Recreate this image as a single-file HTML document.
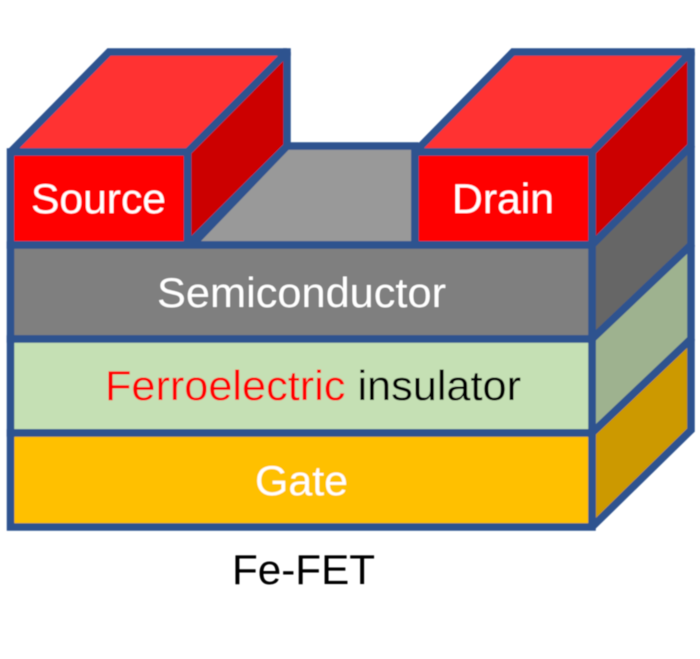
<!DOCTYPE html>
<html><head><meta charset="utf-8"><style>
html,body{margin:0;padding:0;background:#fff;width:700px;height:659px;overflow:hidden}
svg{display:block}
text{font-family:"Liberation Sans",sans-serif;font-size:42px}
</style></head><body>
<svg width="700" height="659" viewBox="0 0 700 659" xmlns="http://www.w3.org/2000/svg">
<defs><filter id="b" filterUnits="userSpaceOnUse" x="0" y="0" width="700" height="659"><feGaussianBlur stdDeviation="0.5"/></filter></defs>
<g filter="url(#b)">
<g stroke="#2f528f" stroke-width="7.5" stroke-linejoin="miter" stroke-miterlimit="1.5">
<polygon points="192,245 287,146 415,146 415,245" fill="#999999"/>
<polygon points="10.5,152 109,52 287,52 187.5,152" fill="#ff3333"/>
<polygon points="187.5,152 287,52 287,146 187.5,245" fill="#cc0000"/>
<rect x="10.5" y="152" width="177" height="93" fill="#ff0000"/>
<polygon points="415,152 513,52 691,52 592,152" fill="#ff3333"/>
<polygon points="592,152 691,52 691,146 592,245" fill="#cc0000"/>
<rect x="415" y="152" width="177" height="93" fill="#ff0000"/>
<polygon points="592,245 691,146 691,245 592,339" fill="#666666"/>
<polygon points="592,339 691,245 691,339 592,433" fill="#9eb28f"/>
<polygon points="592,433 691,339 691,430 592,527" fill="#cc9900"/>
<rect x="10.5" y="245" width="581.5" height="94" fill="#7f7f7f"/>
<rect x="10.5" y="339" width="581.5" height="94" fill="#c5e0b4"/>
<rect x="10.5" y="433" width="581.5" height="94" fill="#ffc000"/>
</g>
<g fill="#2f528f">
<rect x="283" y="48.25" width="7.75" height="7.5"/>
<rect x="687" y="48.25" width="7.75" height="7.5"/>
</g>
<text x="31" y="213" fill="#fff" textLength="135" lengthAdjust="spacingAndGlyphs">Source</text>
<text x="452" y="213" fill="#fff" textLength="102" lengthAdjust="spacingAndGlyphs">Drain</text>
<text x="157" y="307" fill="#fff" textLength="289" lengthAdjust="spacingAndGlyphs">Semiconductor</text>
<text x="105" y="400" textLength="416" lengthAdjust="spacingAndGlyphs"><tspan fill="#ff0000">Ferroelectric</tspan><tspan fill="#000"> insulator</tspan></text>
<text x="255" y="495" fill="#fff" textLength="93" lengthAdjust="spacingAndGlyphs">Gate</text>
<text x="232" y="584" fill="#000" textLength="143" lengthAdjust="spacingAndGlyphs">Fe-FET</text>
</g>
</svg>
</body></html>
